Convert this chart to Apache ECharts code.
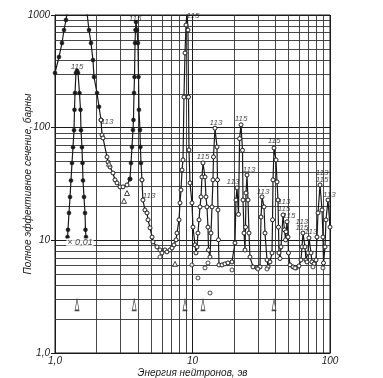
<!DOCTYPE html>
<html>
<head>
<meta charset="utf-8">
<script src="https://cdn.jsdelivr.net/npm/echarts@6/dist/echarts.min.js"></script>
<style>
  html, body { margin: 0; padding: 0; background: #fff; }
  #chart { width: 383px; height: 378px; }
</style>
</head>
<body>
<div id="chart"></div>
<script>
// energy (eV) and total cross section (barns)

// 1.46 eV resonance scaled x0.01
const scaledE = [1.233, 1.243, 1.264, 1.286, 1.307, 1.329, 1.352, 1.375, 1.386, 1.398, 1.42, 1.446, 1.47, 1.507, 1.533, 1.545, 1.571, 1.585, 1.598, 1.625, 1.653, 1.666, 1.68];
const scaledSigma = [10.7, 12.4, 17.5, 24.3, 34, 48.6, 67, 95, 144, 203, 306, 320, 306, 203, 144, 95, 67, 48.6, 34, 24.3, 17.5, 12.4, 10.7];

// unscaled wings of the 1.46 eV resonance (filled points)
const leftWingE = [1.0, 1.069, 1.124, 1.163, 1.202, 1.222];
const leftWingSigma = [306, 424, 564, 736, 903, 1041];
const dropE = [1.709, 1.767, 1.827, 1.889, 1.921, 2.021, 2.09, 2.161];
const dropSigma = [1041, 736, 564, 398, 282, 203, 153, 117];

// minimum between 2 and 3.5 eV (open points)
const dipE = [2.161, 2.197, 2.234, 2.389, 2.43, 2.512, 2.64, 2.731, 2.825, 2.969, 3.123, 3.34, 3.51];
const dipSigma = [117, 86, 81, 55, 49.6, 44.8, 39.6, 34.4, 32.3, 29.8, 29.8, 31.0, 35];

// 3.86 eV resonance (filled points)
const peakE = [3.51, 3.57, 3.63, 3.69, 3.72, 3.755, 3.787, 3.82, 3.85, 3.88, 3.95, 4.01, 4.05, 4.08, 4.15, 4.18, 4.22, 4.29];
const peakSigma = [35, 48.6, 67.4, 95.4, 117, 203, 282, 564, 736, 866, 736, 564, 282, 144, 95.4, 67.4, 48.6, 34.4];

// everything above 4.3 eV (open points)
const highE = [4.29, 4.36, 4.51, 4.67, 4.75, 4.91, 5.08, 5.16, 5.52, 5.80, 6.00, 6.31, 6.52, 6.86, 7.10, 7.33, 7.59, 7.71, 7.98, 8.11,
  8.25, 8.39, 8.53, 8.67, 8.82, 8.97, 9.12, 9.27, 9.35, 9.43, 9.59, 9.91, 10.08, 10.43, 10.6, 10.78, 10.96, 11.15, 11.34, 11.53,
  11.72, 11.92, 12.33, 12.53, 12.74, 12.96, 13.07, 13.40, 13.63, 13.86, 14.09, 14.21, 14.57, 15.07, 15.2, 15.32, 15.45, 15.58, 16.39, 17.22,
  18.11, 19.37, 20.37, 20.71, 21.07, 21.6, 22.0, 22.53, 23.1, 23.3, 23.7, 24.1, 24.3, 24.49, 24.91, 25.33, 25.76, 26.19, 27.54, 29.45,
  30.97, 31.5, 32.03, 33.12, 33.68, 34.83, 35.42, 36.6, 37.87, 38.2, 38.51, 39.16, 40.49, 41.18, 41.87, 42.2, 42.58, 43.3, 44.03, 45.53,
  46.67, 47.5, 47.9, 48.68, 49.5, 49.9, 51.19, 53.83, 56.61, 59.5, 61.5, 62.54, 63.6, 65.77, 66.88, 68.0, 69.16, 70.33, 72.73, 73.95,
  76.5, 79.1, 80.4, 81.8, 84.6, 87.5, 88.9, 89.7, 92.0, 93.5, 96.7, 100];
const highSigma = [34.4, 22.8, 18.6, 17.5, 15.2, 12.9, 10.7, 9.68, 8.74, 8.22, 7.73, 8.22, 7.89, 8.22, 8.56, 9.1, 10.1, 11.6, 15.2, 21.5,
  28, 42.1, 51.7, 187, 460, 815, 1070, 736, 187, 63.4, 32.3, 21.5, 13.1, 9.1, 7.73, 8.74, 11.6, 15.2, 19.8, 24.3,
  36.5, 48.6, 36.5, 24.3, 19.8, 13.1, 8.22, 7.12, 11.6, 19.8, 34.4, 55, 99, 67.4, 34.4, 18.6, 10.1, 6.05, 6.05, 6.18,
  6.3, 6.43, 9.48, 22.8, 29.2, 17, 80, 106, 63, 22.8, 11.6, 8.2, 13.1, 26.3, 38, 22.8, 11.6, 7.12, 5.81, 5.69,
  5.81, 16.1, 24.3, 19.8, 11.6, 6.69, 5.81, 6.43, 7.73, 15.2, 34.4, 66, 51.7, 33, 22.8, 13.1, 7.73, 6.9, 8.74, 16.8,
  12.4, 10.1, 11.9, 14.6, 10.7, 7.73, 6.05, 5.81, 5.69, 5.93, 6.69, 8.74, 11.6, 8.74, 6.69, 6.43, 7.73, 10.5, 7.73, 6.43,
  6.18, 6.69, 10.7, 17.5, 31, 18.6, 10.7, 6.3, 8.74, 15.2, 22.8, 13.1];

// scattered points off the curve
const strayE = [5.8, 9.91, 10.96, 12.33, 12.96, 13.40, 19.37, 29.9, 34.8, 55.6, 75.2, 88.9];
const straySigma = [7.12, 6.05, 4.63, 5.69, 6.3, 3.41, 5.46, 5.57, 5.57, 5.69, 5.81, 5.69];
const triE = [2.47, 3.176, 3.34, 7.46];
const triSigma = [48, 22.4, 26.3, 6.18];

// resonance arrows near the bottom
const arrowE = [1.446, 3.77, 8.82, 11.92, 39.16];
const arrowSigma = [2.67, 2.67, 2.67, 2.67, 2.67];

// isotope labels
const labelE = [1.446, 2.389, 3.82, 4.83, 10.08, 11.92, 14.82, 19.7, 22.53, 25.76, 32.6, 39.16, 46.3, 46.3, 50.3, 62.5, 62.5, 72.7, 87.5, 87.5, 99];
const labelSigma = [346, 112, 921, 24.8, 980, 55, 110, 33, 119, 42.1, 26.9, 76.2, 21.9, 19.0, 16.5, 14.6, 12.9, 11.9, 39.6, 34.4, 25.6];
const labelText = ['115', '113', '115', '113', '115', '115', '113', '113', '115', '113', '113', '115', '113', '115', '115', '113', '115', '113', '113', '115', '113'];

const xTicks = [1, 10, 100];
const yTicks = [1, 10, 100, 1000];

const ink = '#1a1a1a';
const font = 'Liberation Sans';

const pairs = (xs, ys) => xs.map((x, i) => [x, ys[i]]);

// log grid lines 2..9 in every decade
const minorLines = [];
[1, 10].forEach(d => { for (let k = 2; k <= 9; k++) minorLines.push({ xAxis: k * d }); });
[1, 10, 100].forEach(d => { for (let k = 2; k <= 9; k++) minorLines.push({ yAxis: k * d }); });

const openDot = { color: '#fff', borderColor: ink, borderWidth: 1 };
const fullDot = { color: ink, borderColor: ink, borderWidth: 0.5 };
const curveLine = { color: ink, width: 1.2 };

function curve(name, xs, ys, filled, extra) {
  return Object.assign({
    name: name,
    type: 'line',
    data: pairs(xs, ys),
    symbol: 'circle',
    symbolSize: 4,
    showAllSymbol: true,
    itemStyle: filled ? fullDot : openDot,
    lineStyle: curveLine,
    z: 3
  }, extra || {});
}

const chart = echarts.init(document.getElementById('chart'));
chart.setOption({
  animation: false,
  backgroundColor: '#fff',
  grid: {
    left: 55, right: 53, top: 15, bottom: 25,
    outerBoundsMode: 'none',
    show: true, borderColor: ink, borderWidth: 1
  },
  xAxis: {
    type: 'log',
    min: 1,
    max: 100,
    logBase: 10,
    name: 'Энергия нейтронов, эв',
    nameLocation: 'middle',
    nameGap: 15,
    nameMoveOverlap: false,
    nameTextStyle: { fontFamily: font, fontStyle: 'italic', fontSize: 10, color: ink },
    axisLine: { lineStyle: { color: ink } },
    axisTick: { show: false },
    splitLine: { show: true, lineStyle: { color: ink, width: 1 } },
    axisLabel: {
      fontFamily: font, fontStyle: 'italic', fontSize: 10, color: ink, margin: 3,
      formatter: v => xTicks.indexOf(v) < 0 ? '' : (v === 1 ? '1,0' : String(v))
    }
  },
  yAxis: {
    type: 'log',
    min: 1,
    max: 1000,
    logBase: 10,
    name: 'Полное эффективное сечение, барны',
    nameLocation: 'middle',
    nameGap: 22,
    nameMoveOverlap: false,
    nameTextStyle: { fontFamily: font, fontStyle: 'italic', fontSize: 10, color: ink },
    axisLine: { lineStyle: { color: ink } },
    axisTick: { show: true, inside: false, length: 4, lineStyle: { color: ink } },
    splitLine: { show: true, lineStyle: { color: ink, width: 1 } },
    axisLabel: {
      fontFamily: font, fontStyle: 'italic', fontSize: 10, color: ink, margin: 5,
      formatter: v => yTicks.indexOf(v) < 0 ? '' : (v === 1 ? '1,0' : String(v))
    }
  },
  series: [
    curve('scaled', scaledE, scaledSigma, true),
    curve('leftWing', leftWingE, leftWingSigma, true),
    curve('drop', dropE, dropSigma, true),
    curve('dip', dipE, dipSigma, false),
    curve('peak', peakE, peakSigma, true),
    curve('high', highE, highSigma, false, {
      markLine: {
        silent: true,
        symbol: ['none', 'none'],
        label: { show: false },
        lineStyle: { color: '#333', width: 0.9, type: 'solid' },
        data: minorLines,
        z: 1
      }
    }),
    {
      name: 'stray',
      type: 'scatter',
      data: pairs(strayE, straySigma),
      symbol: 'circle',
      symbolSize: 4,
      itemStyle: openDot,
      z: 4
    },
    {
      name: 'triangles',
      type: 'scatter',
      data: pairs(triE, triSigma),
      symbol: 'triangle',
      symbolSize: 5,
      itemStyle: openDot,
      z: 4
    },
    {
      name: 'arrows',
      type: 'scatter',
      data: pairs(arrowE, arrowSigma),
      symbol: 'triangle',
      symbolSize: [4, 11],
      itemStyle: openDot,
      z: 4
    },
    {
      name: 'labels',
      type: 'scatter',
      data: labelE.map((x, i) => ({ value: [x, labelSigma[i]], name: labelText[i] })),
      symbol: 'circle',
      symbolSize: 1,
      itemStyle: { color: 'rgba(0,0,0,0)' },
      label: {
        show: true,
        position: 'inside',
        formatter: p => p.name,
        fontFamily: font,
        fontStyle: 'italic',
        fontSize: 8,
        color: ink
      },
      z: 6
    },
    {
      name: 'scaleNote',
      type: 'scatter',
      data: [{ value: [1.52, 9.5], name: '× 0,01' }],
      symbol: 'circle',
      symbolSize: 1,
      itemStyle: { color: 'rgba(0,0,0,0)' },
      label: {
        show: true,
        position: 'inside',
        formatter: p => p.name,
        fontFamily: font,
        fontStyle: 'italic',
        fontSize: 9,
        color: ink,
        backgroundColor: '#fff',
        padding: [0, 1]
      },
      z: 6
    }
  ]
});
</script>
</body>
</html>
